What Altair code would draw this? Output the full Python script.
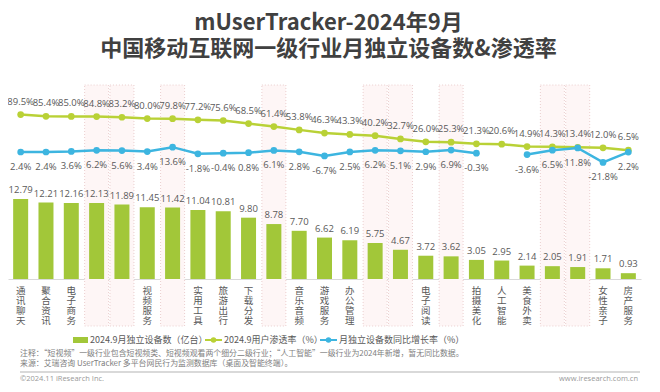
import altair as alt
import pandas as pd

categories = ["通讯聊天", "聚合资讯", "电子商务", "短视频", "金融理财", "视频服务", "生活服务",
              "实用工具", "旅游出行", "下载分发", "社区社交", "音乐音频", "游戏服务", "办公管理",
              "综合资讯", "学习教育", "电子阅读", "汽车服务", "拍摄美化", "人工智能", "美食外卖",
              "健康医疗", "智能穿戴", "女性亲子", "房产服务"]
devices = [12.79, 12.21, 12.16, 12.13, 11.89, 11.45, 11.42, 11.04, 10.81, 9.80, 8.78, 7.70, 6.62,
           6.19, 5.75, 4.67, 3.72, 3.62, 3.05, 2.95, 2.14, 2.05, 1.91, 1.71, 0.93]
penetration = [89.5, 85.4, 85.0, 84.8, 83.2, 80.0, 79.8, 77.2, 75.6, 68.5, 61.4, 53.8, 46.3,
               43.3, 40.2, 32.7, 26.0, 25.3, 21.3, 20.6, 14.9, 14.3, 13.4, 12.0, 6.5]
growth = [2.4, 2.4, 3.6, 6.2, 5.6, 3.4, 13.6, -1.8, -0.4, 0.8, 6.1, 2.8, -6.7,
          2.5, 6.2, 5.1, 2.9, 6.9, -0.3, None, -3.6, 6.5, 11.8, -21.8, 2.2]
highlighted = ["短视频", "金融理财", "生活服务", "社区社交", "综合资讯", "学习教育",
               "汽车服务", "健康医疗", "智能穿戴"]

title_lines = ["mUserTracker-2024年9月", "中国移动互联网一级行业月独立设备数&渗透率"]
legend_labels = ["2024.9月独立设备数（亿台）", "2024.9用户渗透率（%）", "月独立设备数同比增长率（%）"]
notes = ["注释：“短视频”一级行业包含短视频类、短视频观看两个细分二级行业；“人工智能”一级行业为2024年新增，暂无同比数据。",
         "来源：艾瑞咨询 UserTracker 多平台网民行为监测数据库（桌面及智能终端）。"]
footer_left = "©2024.11 iResearch Inc."
footer_right = "www.iresearch.com.cn"

BAR = "#a2c739"
PEN = "#b9d136"
GRO = "#3db5e0"
TXT = "#595959"
CJK = "Noto Sans CJK SC"
NUM = "Open Sans, Noto Sans CJK SC"

df = pd.DataFrame({
    "cat": categories,
    "dev": devices,
    "pen": penetration,
    "gr": growth,
})
df["dev_label"] = df["dev"].map(lambda v: f"{v:.2f}")
df["pen_label"] = df["pen"].map(lambda v: f"{v:.1f}%")
df["gr_label"] = df["gr"].map(lambda v: "" if pd.isna(v) else f"{v:.1f}%")
df["hl"] = df["cat"].isin(highlighted)

xenc = alt.X("cat:N", sort=categories,
             scale=alt.Scale(paddingInner=0.4, paddingOuter=0.2),
             axis=alt.Axis(title=None, labelAngle=0, labelExpr="split(datum.label, '')",
                           labelFontSize=9.5, labelLineHeight=10, labelPadding=6,
                           labelFont=CJK, labelColor=TXT, domainColor="#d9d9d9",
                           ticks=False, labelBaseline="top", labelOverlap=False,
                           labelBound=False))

ybar = alt.Y("dev:Q", scale=alt.Scale(domain=[0, 31.8], nice=False, zero=False), axis=None)
pct_scale = alt.Scale(domain=[-293, 169.8], nice=False, zero=False)

base = alt.Chart(df)

hl_rect = base.transform_filter(alt.datum.hl).mark_bar(
    width=24, fill="#fef6f6", stroke="#e6c4c4", strokeDash=[1, 2], strokeWidth=0.8
).encode(x=xenc, y=alt.value(5), y2=alt.value(246))

bars = base.mark_bar(color=BAR, width=15).encode(x=xenc, y=ybar)
bar_text = base.mark_text(baseline="bottom", dy=-4, fontSize=9.5, font=NUM, color=TXT).encode(
    x=xenc, y=ybar, text="dev_label:N")

pen_line = base.mark_line(color=PEN, strokeWidth=2.5).encode(
    x=xenc, y=alt.Y("pen:Q", scale=pct_scale, axis=None))
pen_pts = base.mark_point(color=PEN, filled=True, opacity=1, size=45).encode(
    x=xenc, y=alt.Y("pen:Q", scale=pct_scale, axis=None))
pen_text = base.mark_text(baseline="middle", dy=-13, fontSize=9.5, font=NUM, color=TXT).encode(
    x=xenc, y=alt.Y("pen:Q", scale=pct_scale, axis=None), text="pen_label:N")

gr_line = base.mark_line(color=GRO, strokeWidth=2.5, invalid="break-paths-filter-domains").encode(
    x=xenc, y=alt.Y("gr:Q", scale=pct_scale, axis=None))
gr_pts = base.transform_filter("isValid(datum.gr)").mark_point(
    color=GRO, filled=True, opacity=1, size=45).encode(
    x=xenc, y=alt.Y("gr:Q", scale=pct_scale, axis=None))
gr_text = base.transform_filter("isValid(datum.gr)").mark_text(
    baseline="middle", dy=15, fontSize=9.5, font=NUM, color=TXT).encode(
    x=xenc, y=alt.Y("gr:Q", scale=pct_scale, axis=None), text="gr_label:N")

one = pd.DataFrame({"k": [0]})
lg = alt.Chart(one)
LY = 260
LF = 9
leg_rect = lg.mark_rect(color=BAR).encode(x=alt.value(65), x2=alt.value(80),
                                          y=alt.value(LY - 3), y2=alt.value(LY + 3))
leg_t1 = lg.mark_text(text=legend_labels[0], align="left", baseline="middle", fontSize=LF,
                      font=CJK, color=TXT).encode(x=alt.value(82), y=alt.value(LY))
leg_l2 = lg.mark_rule(color=PEN, strokeWidth=2).encode(x=alt.value(197), x2=alt.value(214),
                                                       y=alt.value(LY))
leg_p2 = lg.mark_point(color=PEN, filled=True, opacity=1, size=30).encode(
    x=alt.value(205.5), y=alt.value(LY))
leg_t2 = lg.mark_text(text=legend_labels[1], align="left", baseline="middle", fontSize=LF,
                      font=CJK, color=TXT).encode(x=alt.value(216), y=alt.value(LY))
leg_l3 = lg.mark_rule(color=GRO, strokeWidth=2).encode(x=alt.value(312), x2=alt.value(329),
                                                       y=alt.value(LY))
leg_p3 = lg.mark_point(color=GRO, filled=True, opacity=1, size=30).encode(
    x=alt.value(320.5), y=alt.value(LY))
leg_t3 = lg.mark_text(text=legend_labels[2], align="left", baseline="middle", fontSize=LF,
                      font=CJK, color=TXT).encode(x=alt.value(331), y=alt.value(LY))

note1 = lg.mark_text(text=notes[0], align="left", baseline="middle", fontSize=7.9,
                     font=CJK, color="#808080").encode(x=alt.value(12), y=alt.value(274))
note2 = lg.mark_text(text=notes[1], align="left", baseline="middle", fontSize=7.9,
                     font=CJK, color="#808080").encode(x=alt.value(12), y=alt.value(284))
sep = lg.mark_rule(color="#cccccc", strokeWidth=1.5).encode(x=alt.value(12), x2=alt.value(632),
                                                            y=alt.value(292))
foot_l = lg.mark_text(text=footer_left, align="left", baseline="middle", fontSize=7.5,
                      font=NUM, color="#999999").encode(x=alt.value(12), y=alt.value(299))
foot_r = lg.mark_text(text=footer_right, align="right", baseline="middle", fontSize=7.5,
                      font=NUM, color="#999999").encode(x=alt.value(630), y=alt.value(299))

chart = alt.layer(
    hl_rect, bars, bar_text, pen_line, pen_pts, pen_text, gr_line, gr_pts, gr_text,
    leg_rect, leg_t1, leg_l2, leg_p2, leg_t2, leg_l3, leg_p3, leg_t3,
    note1, note2, sep, foot_l, foot_r
).resolve_scale(y="independent").properties(
    width=633, height=199,
    autosize=alt.AutoSizeParams(type="none"),
    padding={"left": 0, "top": 72, "right": 11, "bottom": 105},
    title=alt.Title(title_lines, fontSize=22, font=CJK, fontWeight="bold", color="#404040",
                    lineHeight=26, anchor="middle", offset=19, dx=4),
    background="white",
).configure_view(stroke=None)

chart.save("out.html", embed_options={"renderer": "svg", "actions": False})
